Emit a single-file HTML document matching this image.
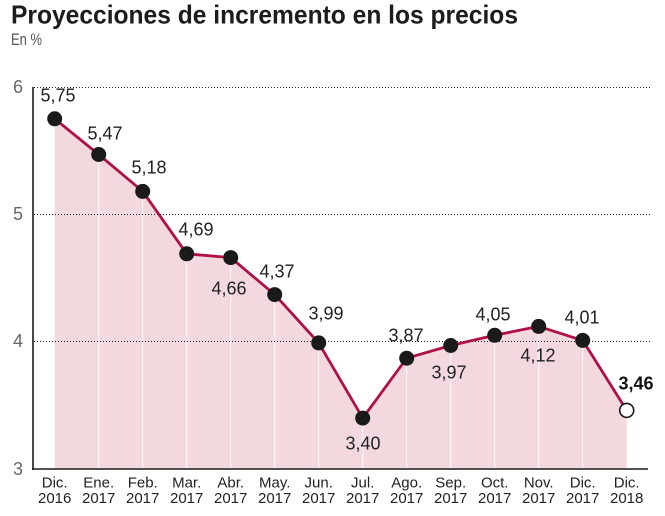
<!DOCTYPE html>
<html>
<head>
<meta charset="utf-8">
<style>
html,body{margin:0;padding:0;background:#fff;}
svg{display:block;}
text{font-family:"Liberation Sans",sans-serif;}
</style>
</head>
<body>
<svg width="665" height="516" viewBox="0 0 665 516" xmlns="http://www.w3.org/2000/svg">
  <rect width="665" height="516" fill="#fff"/>
  <text x="11" y="23.5" font-size="26" font-weight="bold" fill="#1c1c1c" textLength="507" lengthAdjust="spacingAndGlyphs">Proyecciones de incremento en los precios</text>
  <text x="11" y="45" font-size="16.5" fill="#555" textLength="31" lengthAdjust="spacingAndGlyphs">En %</text>

  <!-- fill area -->
  <polygon fill="#f3d9dd" points="54.7,118.8 98.7,154.5 142.7,191.4 186.7,253.8 230.7,257.6 274.7,294.6 318.7,342.9 362.7,418.1 406.7,358.2 450.7,345.5 494.7,335.3 538.7,326.4 582.7,340.4 626.7,410.4 626.7,469 54.7,469"/>
  <!-- white verticals -->
  <g stroke="#ffffff" stroke-width="1" opacity="0.8">
    <line x1="98.7" y1="154.5" x2="98.7" y2="469"/>
    <line x1="142.7" y1="191.4" x2="142.7" y2="469"/>
    <line x1="186.7" y1="253.8" x2="186.7" y2="469"/>
    <line x1="230.7" y1="257.6" x2="230.7" y2="469"/>
    <line x1="274.7" y1="294.6" x2="274.7" y2="469"/>
    <line x1="318.7" y1="342.9" x2="318.7" y2="469"/>
    <line x1="362.7" y1="418.1" x2="362.7" y2="469"/>
    <line x1="406.7" y1="358.2" x2="406.7" y2="469"/>
    <line x1="450.7" y1="345.5" x2="450.7" y2="469"/>
    <line x1="494.7" y1="335.3" x2="494.7" y2="469"/>
    <line x1="538.7" y1="326.4" x2="538.7" y2="469"/>
    <line x1="582.7" y1="340.4" x2="582.7" y2="469"/>
  </g>

  <!-- gridlines -->
  <g stroke="#222" stroke-width="1" stroke-dasharray="1,2">
    <line x1="34" y1="87.5" x2="650" y2="87.5"/>
    <line x1="34" y1="214.5" x2="650" y2="214.5"/>
    <line x1="34" y1="341.5" x2="650" y2="341.5"/>
  </g>

  <!-- axes -->
  <line x1="33" y1="87" x2="33" y2="470" stroke="#1a1a1a" stroke-width="1.6"/>
  <line x1="32" y1="469" x2="648" y2="469" stroke="#1a1a1a" stroke-width="1.6"/>

  <!-- y labels -->
  <g font-size="18" fill="#666" text-anchor="middle">
    <text x="18" y="93">6</text>
    <text x="18" y="220">5</text>
    <text x="18" y="347">4</text>
    <text x="18" y="475">3</text>
  </g>

  <!-- line -->
  <polyline fill="none" stroke="#b01048" stroke-width="2.8" stroke-linejoin="round" points="54.7,118.8 98.7,154.5 142.7,191.4 186.7,253.8 230.7,257.6 274.7,294.6 318.7,342.9 362.7,418.1 406.7,358.2 450.7,345.5 494.7,335.3 538.7,326.4 582.7,340.4 626.7,410.4"/>

  <!-- dots -->
  <g fill="#1a1a1a">
    <circle cx="54.7" cy="118.8" r="7.5"/>
    <circle cx="98.7" cy="154.5" r="7.5"/>
    <circle cx="142.7" cy="191.4" r="7.5"/>
    <circle cx="186.7" cy="253.8" r="7.5"/>
    <circle cx="230.7" cy="257.6" r="7.5"/>
    <circle cx="274.7" cy="294.6" r="7.5"/>
    <circle cx="318.7" cy="342.9" r="7.5"/>
    <circle cx="362.7" cy="418.1" r="7.5"/>
    <circle cx="406.7" cy="358.2" r="7.5"/>
    <circle cx="450.7" cy="345.5" r="7.5"/>
    <circle cx="494.7" cy="335.3" r="7.5"/>
    <circle cx="538.7" cy="326.4" r="7.5"/>
    <circle cx="582.7" cy="340.4" r="7.5"/>
  </g>
  <circle cx="626.7" cy="410.4" r="7" fill="#fff" stroke="#1a1a1a" stroke-width="1.6"/>

  <!-- point labels -->
  <g font-size="18" fill="#222" text-anchor="middle">
    <text x="58" y="101.5">5,75</text>
    <text x="105" y="139.5">5,47</text>
    <text x="149" y="173.5">5,18</text>
    <text x="196" y="235.5">4,69</text>
    <text x="229" y="294.5">4,66</text>
    <text x="277" y="277.5">4,37</text>
    <text x="326" y="319.5">3,99</text>
    <text x="363" y="449.5">3,40</text>
    <text x="406" y="341.5">3,87</text>
    <text x="449" y="378.5">3,97</text>
    <text x="493" y="320.5">4,05</text>
    <text x="538" y="361.5">4,12</text>
    <text x="582" y="323.5">4,01</text>
    <text x="636" y="389.5" font-weight="bold" fill="#111">3,46</text>
  </g>

  <!-- x labels -->
  <g font-size="15" fill="#222" text-anchor="middle">
    <text x="54.7" y="487.5">Dic.</text><text x="54.7" y="503">2016</text>
    <text x="98.7" y="487.5">Ene.</text><text x="98.7" y="503">2017</text>
    <text x="142.7" y="487.5">Feb.</text><text x="142.7" y="503">2017</text>
    <text x="186.7" y="487.5">Mar.</text><text x="186.7" y="503">2017</text>
    <text x="230.7" y="487.5">Abr.</text><text x="230.7" y="503">2017</text>
    <text x="274.7" y="487.5">May.</text><text x="274.7" y="503">2017</text>
    <text x="318.7" y="487.5">Jun.</text><text x="318.7" y="503">2017</text>
    <text x="362.7" y="487.5">Jul.</text><text x="362.7" y="503">2017</text>
    <text x="406.7" y="487.5">Ago.</text><text x="406.7" y="503">2017</text>
    <text x="450.7" y="487.5">Sep.</text><text x="450.7" y="503">2017</text>
    <text x="494.7" y="487.5">Oct.</text><text x="494.7" y="503">2017</text>
    <text x="538.7" y="487.5">Nov.</text><text x="538.7" y="503">2017</text>
    <text x="582.7" y="487.5">Dic.</text><text x="582.7" y="503">2017</text>
    <text x="626.7" y="487.5">Dic.</text><text x="626.7" y="503">2018</text>
  </g>
</svg>
</body>
</html>
